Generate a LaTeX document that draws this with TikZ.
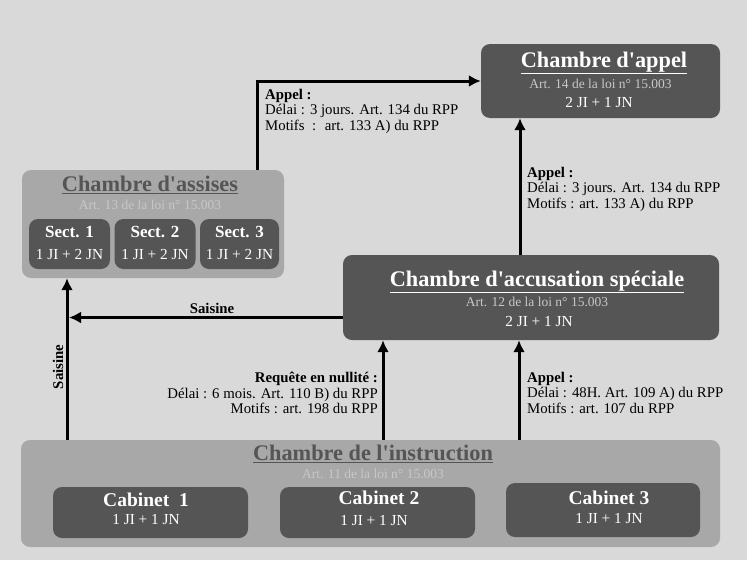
\documentclass[tikz,border=0pt]{standalone}
\usepackage{fontspec}
\setmainfont{Liberation Serif}
\usetikzlibrary{arrows.meta}
\definecolor{fond}{HTML}{D9D9D9}
\definecolor{fonce}{HTML}{555555}
\definecolor{moyen}{HTML}{A8A8A8}
\definecolor{pale}{HTML}{C8C8C8}
\newcommand{\apos}{\textquotesingle}
\tikzset{
  boite/.style={rounded corners=9pt, inner sep=0pt, fill=fonce},
  grande/.style={boite, fill=moyen},
  titreB/.style={text=white, font=\fontsize{22.3}{25}\selectfont\bfseries, inner sep=0pt},
  titreG/.style={text=fonce, font=\fontsize{22.3}{25}\selectfont\bfseries, inner sep=0pt},
  article/.style={text=pale, font=\fontsize{13.5}{15}\selectfont, inner sep=0pt},
  compo/.style={text=white, font=\fontsize{15.3}{17}\selectfont, inner sep=0pt},
  sect/.style={text=white, font=\fontsize{17}{19}\selectfont\bfseries, inner sep=0pt},
  cabinet/.style={text=white, font=\fontsize{19.5}{21}\selectfont\bfseries, inner sep=0pt},
  legende/.style={font=\fontsize{14.8}{15.5}\selectfont, inner sep=0pt},
  fleche/.style={line width=3pt, -{Latex[length=12pt,width=12pt]}},
}
\begin{document}
\begin{tikzpicture}[x=1pt,y=-1pt]
\useasboundingbox (0,0) rectangle (747,560);
\fill[fond] (0,0) rectangle (747,560);
% chambre d'appel
\node[boite, minimum width=239pt, minimum height=74pt] (appel) at (600.5,81) {};
\node[titreB] (appelT) at (604,63) {\underline{Chambre d\apos appel}};
\node[article] (appelA) at (600.5,84) {Art. 14 de la loi n° 15.003};
\node[compo] (appelC) at (599,103) {2 JI + 1 JN};
% chambre d'assises
\node[grande, minimum width=262pt, minimum height=108pt] (assises) at (153,224) {};
\node[titreG] (assisesT) at (150,185) {\underline{Chambre d\apos assises}};
\node[article] (assisesA) at (150,205) {Art. 13 de la loi n° 15.003};
\foreach \n/\x/\w in {1/69.5/81,2/155/81,3/239.5/79}{
  \node[boite, minimum width=\w pt, minimum height=50pt] (sect\n) at (\x,244) {};
  \node[sect] at (\x,232) {Sect. \n};
  \node[compo] at (\x,255) {1 JI + 2 JN};
}
% chambre d'accusation speciale
\node[boite, minimum width=376pt, minimum height=85pt] (accus) at (531,297.5) {};
\node[titreB] (accusT) at (537,282) {\underline{Chambre d\apos accusation spéciale}};
\node[article] (accusA) at (537,302) {Art. 12 de la loi n° 15.003};
\node[compo] (accusC) at (539,322) {2 JI + 1 JN};
% chambre de l'instruction
\node[grande, minimum width=699pt, minimum height=107pt] (instr) at (370.5,493.5) {};
\node[titreG] (instrT) at (373,454) {\underline{Chambre de l\apos instruction}};
\node[article] (instrA) at (373,474) {Art. 11 de la loi n° 15.003};
\node[boite, minimum width=195pt, minimum height=51pt] (cab1) at (150.5,512.5) {};
\node[boite, minimum width=195pt, minimum height=51pt] (cab2) at (377.5,512.5) {};
\node[boite, minimum width=194pt, minimum height=54pt] (cab3) at (603,510) {};
\node[cabinet] at (146,500) {Cabinet~ 1};
\node[compo] at (146,520) {1 JI + 1 JN};
\node[cabinet] at (379,498) {Cabinet 2};
\node[compo] at (374,521) {1 JI + 1 JN};
\node[cabinet] at (609,498) {Cabinet 3};
\node[compo] at (609,519) {1 JI + 1 JN};
% pieds des fleches
\coordinate (p1) at (67,0);
\coordinate (p2) at (383,0);
\coordinate (p3) at (519,0);
% fleches
\draw[fleche] ([xshift=-27pt]assises.north east) |- (appel.west);
\draw[fleche] ([xshift=-11pt]accus.north) -- ([xshift=-11pt]accus.north |- appel.south);
\draw[fleche] ([yshift=-20pt]accus.west) -- ([yshift=-20pt,xshift=2pt]accus.west -| p1);
\draw[fleche] (instr.north -| p1) -- (assises.south -| p1);
\draw[fleche] (instr.north -| p2) -- (accus.south -| p2);
\draw[fleche] (instr.north -| p3) -- (accus.south -| p3);
% legendes
\node[legende, align=left, anchor=north west] (leg1) at (265,89)
  {\textbf{Appel :}\\Délai : 3 jours. Art. 134 du RPP\\Motifs~ :~ art. 133 A) du RPP};
\node[legende, align=left, anchor=north west] (leg2) at (527,167)
  {\textbf{Appel :}\\Délai : 3 jours. Art. 134 du RPP\\Motifs : art. 133 A) du RPP};
\node[legende, font=\fontsize{14.8}{15.5}\selectfont\bfseries] (leg3) at (212,308) {Saisine};
\node[legende, font=\fontsize{14.8}{15.5}\selectfont\bfseries, rotate=90] (leg4) at (58,367) {Saisine};
\node[legende, align=right, anchor=north east] (leg5) at (378,372)
  {\textbf{Requête en nullité :}\\Délai : 6 mois. Art. 110 B) du RPP\\Motifs : art. 198 du RPP};
\node[legende, align=left, anchor=north west] (leg6) at (527,372)
  {\textbf{Appel :}\\Délai : 48H. Art. 109 A) du RPP\\Motifs : art. 107 du RPP};
\end{tikzpicture}
\end{document}
